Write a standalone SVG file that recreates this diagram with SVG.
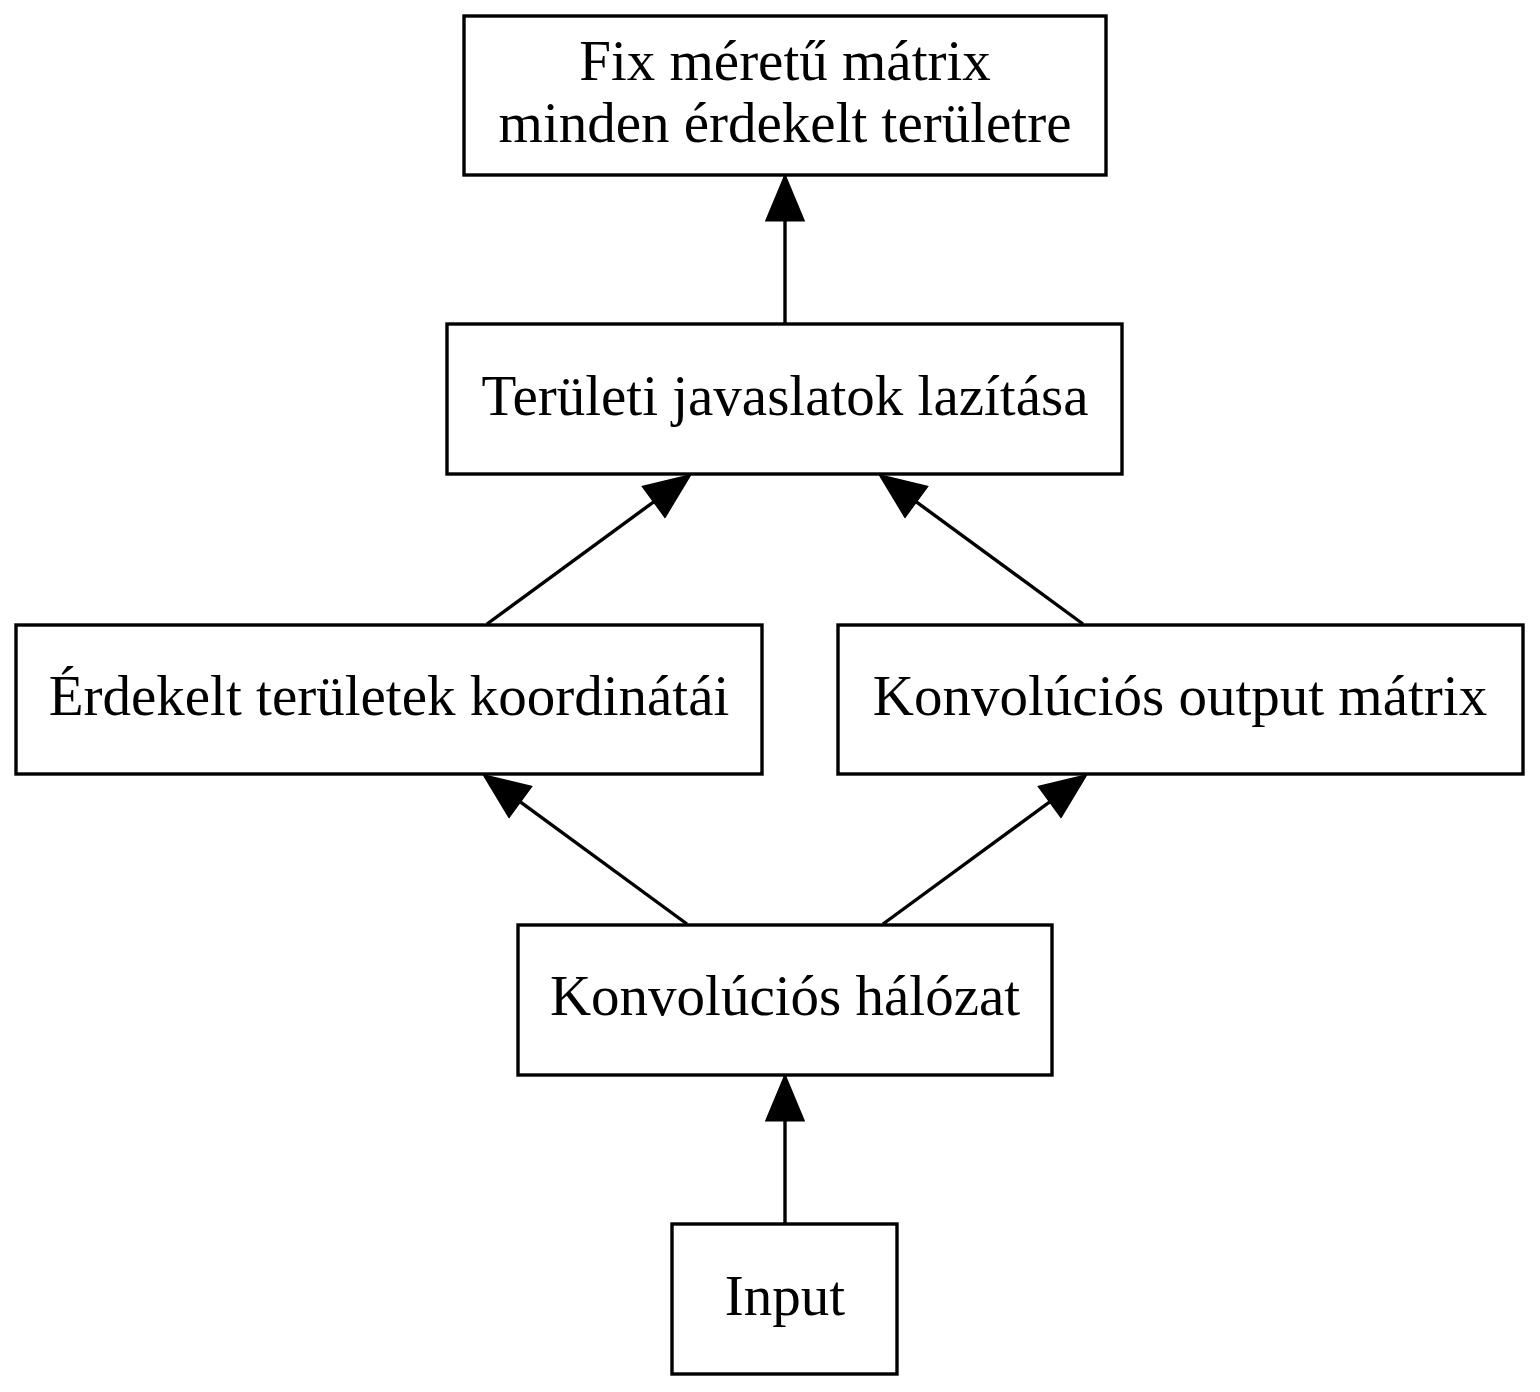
<svg xmlns="http://www.w3.org/2000/svg" width="1540" height="1392" viewBox="0 0 1540 1392">
<style>
.box{fill:#fff;stroke:#000;stroke-width:3.4}
.t{font-family:"Liberation Serif","Times New Roman",serif;font-size:57px;text-anchor:middle;fill:#000}
.e{stroke:#000;stroke-width:3.4;fill:none}
</style>
<defs>
<marker id="ah" markerUnits="userSpaceOnUse" markerWidth="50" markerHeight="40" viewBox="0 -20 46 40" refX="43" refY="0" orient="auto">
<path d="M0,-18 L43,0 L0,18 Z" fill="#000" stroke="#000" stroke-width="3"/>
</marker>
</defs>
<rect width="1540" height="1392" fill="#fff"/>
<g id="edges">
<line class="e" x1="785" y1="324" x2="785" y2="177" marker-end="url(#ah)"/>
<line class="e" x1="487" y1="624" x2="689" y2="476" marker-end="url(#ah)"/>
<line class="e" x1="1083" y1="624" x2="881" y2="476" marker-end="url(#ah)"/>
<line class="e" x1="687" y1="924" x2="485" y2="776" marker-end="url(#ah)"/>
<line class="e" x1="883" y1="924" x2="1085" y2="776" marker-end="url(#ah)"/>
<line class="e" x1="785" y1="1224" x2="785" y2="1077" marker-end="url(#ah)"/>
</g>
<g id="fix">
<rect class="box" x="464" y="16" width="642" height="159"/>
<text class="t" x="785" y="80">Fix méretű mátrix</text>
<text class="t" x="785" y="142">minden érdekelt területre</text>
</g>
<g id="javaslat">
<rect class="box" x="447" y="324" width="675" height="150"/>
<text class="t" x="785" y="415">Területi javaslatok lazítása</text>
</g>
<g id="koord">
<rect class="box" x="16" y="625" width="746" height="149"/>
<text class="t" x="389" y="715">Érdekelt területek koordinátái</text>
</g>
<g id="outmat">
<rect class="box" x="838" y="625" width="685" height="149"/>
<text class="t" x="1180" y="715">Konvolúciós output mátrix</text>
</g>
<g id="halo">
<rect class="box" x="518" y="925" width="534" height="150"/>
<text class="t" x="785" y="1015">Konvolúciós hálózat</text>
</g>
<g id="input">
<rect class="box" x="672" y="1224" width="225" height="150"/>
<text class="t" x="785" y="1315">Input</text>
</g>
</svg>
